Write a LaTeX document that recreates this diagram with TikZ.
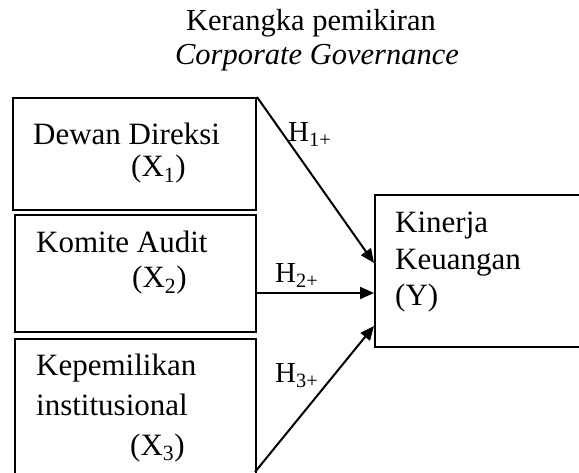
\documentclass[tikz,border=0pt]{standalone}
\usepackage{fontspec}
\setmainfont{Liberation Serif}
\usetikzlibrary{arrows.meta,positioning}

\begin{document}
\begin{tikzpicture}[>={Triangle[length=14pt,width=12pt]}, x=1pt, y=-1pt,
    box/.style={rectangle, draw=black, line width=2pt, anchor=north west, inner sep=0pt},
    txt/.style={inner sep=0pt, anchor=base west, font=\fontsize{31}{36}\selectfont},
    ttl/.style={inner sep=0pt, anchor=base, font=\fontsize{30.5}{34}\selectfont},
    hyp/.style={inner sep=0pt, anchor=base west, font=\fontsize{29}{32}\selectfont}]
          \useasboundingbox (0,0) rectangle (579,473);

          \node[ttl] (t1) at (311,31) {Kerangka pemikiran};
          \node[ttl] (t2) at (317,65) {\itshape Corporate Governance};

          \node[box, minimum width=243pt, minimum height=112pt] (dd) at (12,97) {};
          \node[box, minimum width=241pt, minimum height=117pt] (ka) at (14,214) {};
          \node[box, minimum width=241pt, minimum height=138pt] (ki) at (14,338) {};
          \node[box, minimum width=208pt, minimum height=152pt] (ky) at (374,194) {};

          \node[txt] (dd1) at (33,145) {Dewan Direksi};
          \node[txt] (dd2) at (131,177) {(X\textsubscript{1})};
          \node[txt] (ka1) at (36,253) {Komite Audit};
          \node[txt] (ka2) at (132,288) {(X\textsubscript{2})};
          \node[txt] (ki1) at (36,376) {Kepemilikan};
          \node[txt] (ki2) at (36,415) {institusional};
          \node[txt] (ki3) at (130,455) {(X\textsubscript{3})};
          \node[txt] (ky1) at (395,233) {Kinerja};
          \node[txt] (ky2) at (395,270) {Keuangan};
          \node[txt] (ky3) at (395,306) {(Y)};

          \node[hyp] (h1) at (288,142) {H\textsubscript{1+}};
          \node[hyp] (h2) at (275,283) {H\textsubscript{2+}};
          \node[hyp] (h3) at (275,383) {H\textsubscript{3+}};

          \coordinate (ka-out) at (255,293);
          \coordinate (ki-out) at (255,472);
          \coordinate (ky-in1) at (374,263);
          \coordinate (ky-in2) at (374,293);
          \coordinate (ky-in3) at (374,326);

          \draw[->, line width=2pt] (dd.north east)--(ky-in1);
          \draw[->, line width=2pt] (ka-out)--(ky-in2);
          \draw[->, line width=2pt] (ki-out)--(ky-in3);
\end{tikzpicture}
\end{document}
